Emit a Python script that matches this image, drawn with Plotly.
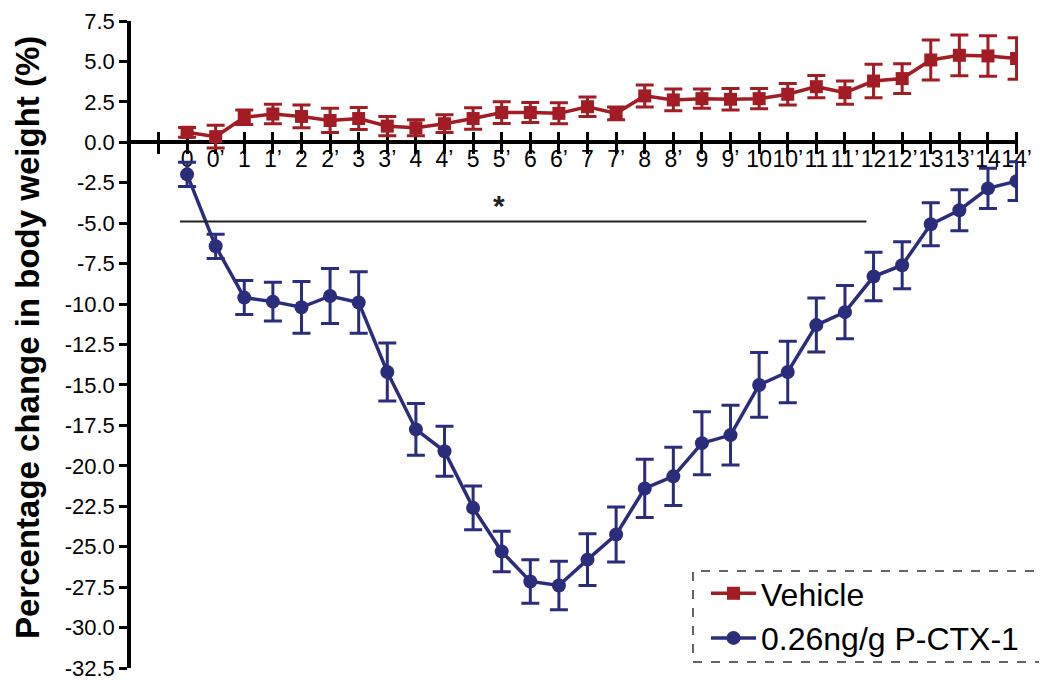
import plotly.graph_objects as go

categories = ["0", "0’", "1", "1’", "2", "2’", "3", "3’", "4", "4’", "5", "5’",
              "6", "6’", "7", "7’", "8", "8’", "9", "9’", "10", "10’", "11", "11’",
              "12", "12’", "13", "13’", "14", "14’"]

vehicle = [0.62, 0.35, 1.55, 1.75, 1.6, 1.35, 1.47, 1.0, 0.9, 1.15, 1.47, 1.84,
           1.84, 1.79, 2.2, 1.79, 2.87, 2.62, 2.7, 2.66, 2.7, 2.97, 3.44, 3.07,
           3.79, 3.94, 5.09, 5.38, 5.34, 5.18]
vehicle_err = [0.3, 0.7, 0.45, 0.6, 0.7, 0.75, 0.68, 0.6, 0.5, 0.55, 0.67, 0.67,
               0.62, 0.65, 0.6, 0.4, 0.68, 0.67, 0.6, 0.67, 0.62, 0.66, 0.69, 0.72,
               1.03, 0.92, 1.24, 1.26, 1.25, 1.28]

ctx = [-1.98, -6.43, -9.6, -9.85, -10.2, -9.5, -9.9, -14.2, -17.75, -19.1, -22.6, -25.3,
       -27.15, -27.4, -25.8, -24.25, -21.4, -20.65, -18.6, -18.1, -15.0, -14.2, -11.3, -10.5,
       -8.3, -7.6, -5.07, -4.2, -2.85, -2.4]
ctx_err = [0.75, 0.75, 1.05, 1.2, 1.6, 1.7, 1.9, 1.8, 1.6, 1.55, 1.35, 1.25,
           1.35, 1.5, 1.6, 1.7, 1.8, 1.8, 1.95, 1.85, 2.0, 1.9, 1.67, 1.65,
           1.5, 1.45, 1.33, 1.27, 1.24, 1.2]

y_tickvals = [7.5, 5.0, 2.5, 0.0, -2.5, -5.0, -7.5, -10.0, -12.5, -15.0, -17.5, -20.0,
              -22.5, -25.0, -27.5, -30.0, -32.5]
y_ticktext = ["7.5", "5.0", "2.5", "0.0", "-2.5", "-5.0", "-7.5", "-10.0", "-12.5", "-15.0",
              "-17.5", "-20.0", "-22.5", "-25.0", "-27.5", "-30.0", "-32.5"]

# significance bar (in category-index units / percent)
sig_start, sig_end, sig_y = -0.25, 23.75, -4.9
sig_star_x, sig_star_y = 10.9, -3.9

RED = "#A21C23"
BLUE = "#2A2C7C"
FONT = "Liberation Sans, Arial, sans-serif"

# the page body adds an 8px offset; size the figure so the plot area lands at
# x 131..1018, y 21..668 in the window
OFF = 8
FIG_W, FIG_H = 1047 - OFF, 680 - OFF
L, R, T, B = 131 - OFF, 29, 21 - OFF, 12
PW, PH = FIG_W - L - R, FIG_H - T - B
X0, Y1 = L + OFF, T + OFF + PH  # window pixel of plot left / bottom


def px(xw):
    return (xw - X0) / PW


def py(yw):
    return (Y1 - yw) / PH


x_idx = list(range(len(categories)))
x_tickvals = [-1] + x_idx
x_ticktext = [""] + categories
x_range = [-1.96, 29.05]
y_range = [-32.5, 7.5]
zero_pos = (0 - y_range[0]) / (y_range[1] - y_range[0])

fig = go.Figure()
fig.add_trace(go.Scatter(
    x=x_idx, y=vehicle, name="Vehicle", mode="lines+markers",
    line=dict(color=RED, width=3.5),
    marker=dict(symbol="square", size=13, color=RED),
    error_y=dict(type="data", array=vehicle_err, visible=True, color=RED,
                 thickness=3, width=9),
    legendgroup="a",
))
fig.add_trace(go.Scatter(
    x=x_idx, y=ctx, name="0.26ng/g P-CTX-1", mode="lines+markers",
    line=dict(color=BLUE, width=3.5),
    marker=dict(symbol="circle", size=14, color=BLUE),
    error_y=dict(type="data", array=ctx_err, visible=True, color=BLUE,
                 thickness=3, width=9),
    legendgroup="b",
))

fig.add_shape(type="line", xref="x", yref="y", x0=sig_start, x1=sig_end,
              y0=sig_y, y1=sig_y, line=dict(color="#222222", width=2))
fig.add_annotation(x=sig_star_x, y=sig_star_y, xref="x", yref="y", text="<b>*</b>",
                   showarrow=False, font=dict(size=30, color="#222222", family=FONT))

# y title
fig.add_annotation(x=px(27), y=py(338), xref="paper", yref="paper",
                   text="<b>Percentage change in body weight (%)</b>", textangle=-90,
                   showarrow=False, xanchor="center", yanchor="middle",
                   font=dict(size=33, color="black", family=FONT))

# dashed legend box
fig.add_shape(type="rect", xref="paper", yref="paper",
              x0=px(693), x1=px(1043), y0=py(662), y1=py(571),
              line=dict(color="#333333", width=1.5, dash="dash"), fillcolor="rgba(0,0,0,0)")

fig.update_layout(
    width=FIG_W, height=FIG_H,
    margin=dict(l=L, r=R, t=T, b=B, autoexpand=False),
    plot_bgcolor="white", paper_bgcolor="white",
    font=dict(family=FONT, color="black"),
    showlegend=True,
    legend=dict(x=px(706), y=py(566), xanchor="left", yanchor="top",
                font=dict(size=32, family=FONT, color="black"),
                bgcolor="rgba(0,0,0,0)", borderwidth=0, tracegroupgap=0,
                itemwidth=45),
    xaxis=dict(range=x_range, tickmode="array", tickvals=x_tickvals, ticktext=x_ticktext,
               anchor="free", position=zero_pos, showline=True, linecolor="black",
               linewidth=3.5, ticks="outside", ticklen=10, tickwidth=3, tickcolor="black",
               tickfont=dict(size=23, family=FONT, color="black"), showgrid=False,
               zeroline=False, layer="below traces", tickangle=0, automargin=False,
               ticklabelstandoff=-15, ticklabeloverflow="allow"),
    xaxis2=dict(range=x_range, tickmode="array", tickvals=x_tickvals, overlaying="x",
                anchor="free", position=zero_pos, showline=False, ticks="inside",
                ticklen=10, tickwidth=3, tickcolor="black", showticklabels=False,
                showgrid=False, zeroline=False, layer="below traces", automargin=False),
    yaxis=dict(range=y_range, tickmode="array", tickvals=y_tickvals, ticktext=y_ticktext,
               showline=True, linecolor="black", linewidth=3.5, ticks="outside",
               ticklen=8, tickwidth=3, tickcolor="black",
               tickfont=dict(size=22, family=FONT, color="black"),
               showgrid=False, zeroline=False, layer="below traces", automargin=False,
               ticklabeloverflow="allow"),
)
# invisible helper trace to activate the inside-tick overlay axis
fig.add_trace(go.Scatter(x=[x_range[0]], y=[0], xaxis="x2", mode="markers",
                         marker=dict(opacity=0), showlegend=False, hoverinfo="skip"))

fig.write_html("out.html")
